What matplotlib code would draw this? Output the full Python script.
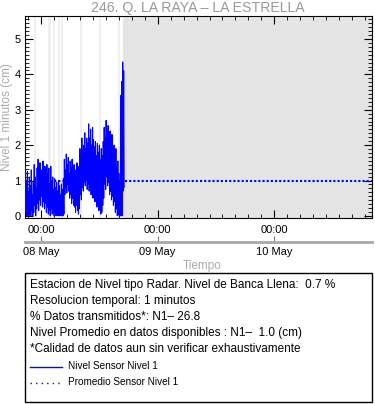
import numpy as np
import matplotlib
matplotlib.use('Agg')
from matplotlib import pyplot as plt
from matplotlib.ticker import MultipleLocator, FixedLocator
from matplotlib.patches import Rectangle

plt.rcParams['font.family'] = ['Liberation Sans', 'DejaVu Sans']

# hours from 08 May 00:00, one sample column every 0.2 h (upper / lower excursion)
hours = np.arange(-3.2, 17.1, 0.2)[:102]
nivel_hi = [1.4, 1.0, 1.25, 0.7, 1.1, 0.85, 1.3, 0.6, 0.95, 1.45,
            1.1, 0.8, 1.35, 1.6, 1.2, 1.5, 1.0, 1.3, 1.55, 1.15,
            1.4, 0.95, 1.45, 1.2, 1.35, 0.9, 1.4, 1.0, 1.1, 0.75,
            1.05, 0.8, 0.95, 0.7, 1.0, 0.85, 0.6, 0.9, 0.75, 1.05,
            1.6, 1.3, 1.75, 1.45, 1.65, 1.2, 1.55, 1.35, 1.6, 1.25,
            1.45, 1.1, 1.3, 1.5, 1.15, 1.4, 1.9, 1.7, 2.2, 1.85,
            2.0, 2.35, 1.9, 2.2, 2.05, 2.6, 2.2, 2.45, 2.0, 2.5,
            2.15, 1.95, 2.1, 1.7, 2.05, 1.8, 2.0, 1.6, 1.9, 1.7,
            2.1, 2.5, 2.2, 2.7, 2.35, 2.55, 2.1, 2.4, 2.0, 2.3,
            1.8, 2.0, 1.6, 1.9, 1.4, 1.55, 1.2, 1.0, 3.4, 3.8,
            4.35, 4.1]
nivel_lo = [0.1, 0.0, 0.2, 0.0, 0.05, 0.0, 0.15, 0.0, 0.1, 0.3,
            0.0, 0.2, 0.35, 0.15, 0.45, 0.3, 0.55, 0.25, 0.4, 0.2,
            0.35, 0.1, 0.25, 0.05, 0.15, 0.0, 0.2, 0.05, 0.1, 0.0,
            0.1, 0.0, 0.15, 0.0, 0.05, 0.0, 0.1, 0.0, 0.0, 0.05,
            0.6, 0.8, 0.65, 0.9, 0.7, 0.5, 0.6, 0.35, 0.5, 0.3,
            0.25, 0.1, 0.3, 0.15, 0.05, 0.2, 0.6, 0.45, 0.8, 0.7,
            0.95, 0.85, 1.0, 0.75, 0.9, 0.7, 0.85, 0.6, 0.75, 0.5,
            0.6, 0.4, 0.45, 0.25, 0.35, 0.15, 0.2, 0.05, 0.1, 0.3,
            0.5, 0.9, 0.75, 1.1, 0.85, 0.95, 0.6, 0.7, 0.45, 0.55,
            0.3, 0.4, 0.1, 0.2, 0.0, 0.05, 0.0, 0.0, 0.0, 0.0,
            0.7, 0.8]
promedio = 1.0

# missing-data stripes (hours) and the no-data region
huecos = [(-1.38, -1.03), (1.50, 2.06), (2.53, 2.88), (3.56, 3.97), (4.11, 4.46),
          (8.02, 8.37), (11.93, 12.28), (15.9, 16.25)]
sin_datos = 16.93

dias = [0, 24, 48]
dias_lbl = ['08 May', '09 May', '10 May']
xmin, xmax = -3.3, 68.1

fig = plt.figure(figsize=(3.75, 4.04), dpi=100)
L, R = 25 / 375, 372 / 375
ax = fig.add_axes([L, 1 - 218 / 404, R - L, 202 / 404])

ax.axvspan(sin_datos, xmax, color='#e4e4e4', lw=0, zorder=0)
for a, b in huecos:
    ax.axvspan(a, b, color='#efefef', lw=0, zorder=0)

tz = np.ravel(np.column_stack([hours, hours + 0.1]))
vz = np.ravel(np.column_stack([nivel_hi, nivel_lo]))
ax.plot(tz, vz, color='#0000ff', lw=0.8, zorder=3)
ax.plot([xmin, xmax], [promedio, promedio], color='#0000ff', lw=1.5,
        linestyle=(0, (1, 1)), zorder=2)

ax.set_xlim(xmin, xmax)
ax.set_ylim(-0.06, 5.65)
ax.xaxis.set_major_locator(FixedLocator(dias))
ax.xaxis.set_minor_locator(MultipleLocator(24 / 9))
ax.set_xticklabels(['00:00'] * 3)
ax.yaxis.set_major_locator(MultipleLocator(1))
ax.yaxis.set_minor_locator(MultipleLocator(1 / 9))
ax.tick_params(which='both', direction='in', top=True, right=True, labelsize=8, pad=3)
ax.tick_params(which='major', length=6, width=0.8)
ax.tick_params(which='minor', length=3, width=0.6)
ax.tick_params(axis='x', pad=5)
for s in ax.spines.values():
    s.set_linewidth(0.8)
ax.set_ylabel('Nivel 1 minutos (cm)', color='#aaaaaa', fontsize=8.5, labelpad=1)
fig.text(0.528, 1 - 8 / 404, '246. Q. LA RAYA \u2013 LA ESTRELLA', ha='center', va='center',
         color='#999999', fontsize=10.2)

# date axis below
ax2 = fig.add_axes([L, 1 - 241.5 / 404, R - L, 0.001])
ax2.set_xlim(xmin, xmax)
ax2.set_ylim(0, 1)
ax2.patch.set_visible(False)
for k in ['top', 'left', 'right']:
    ax2.spines[k].set_visible(False)
ax2.spines['bottom'].set_color('#a8a8a8')
ax2.spines['bottom'].set_linewidth(2)
ax2.set_yticks([])
ax2.set_xticks(dias)
ax2.set_xticklabels(dias_lbl)
ax2.tick_params(axis='x', direction='in', length=4, width=0.8, color='#777777',
                labelsize=8, pad=4)
fig.text(0.538, 1 - 266 / 404, 'Tiempo', ha='center', va='center', color='#aaaaaa', fontsize=8.5)

# info box
fig.patches.append(Rectangle((L, 1 - 402 / 404), R - L, 129 / 404, transform=fig.transFigure,
                             fill=False, ec='black', lw=1))
info = ['Estacion de Nivel tipo Radar. Nivel de Banca Llena:  0.7 %',
        'Resolucion temporal: 1 minutos',
        '% Datos transmitidos*: N1\u2013 26.8',
        'Nivel Promedio en datos disponibles : N1\u2013  1.0 (cm)',
        '*Calidad de datos aun sin verificar exhaustivamente']
for i, t in enumerate(info):
    fig.text(30 / 375, 1 - (285 + 16 * i) / 404, t, ha='left', va='center', fontsize=8.5)
fig.lines.append(plt.Line2D([30 / 375, 62 / 375], [1 - 367 / 404] * 2, transform=fig.transFigure,
                            color='#0000ff', lw=1))
fig.lines.append(plt.Line2D([30 / 375, 62 / 375], [1 - 383 / 404] * 2, transform=fig.transFigure,
                            color='#0000ff', lw=1, linestyle=(0, (1, 3))))
fig.text(68 / 375, 1 - 366 / 404, 'Nivel Sensor Nivel 1', ha='left', va='center', fontsize=7.2)
fig.text(68 / 375, 1 - 382 / 404, 'Promedio Sensor Nivel 1', ha='left', va='center', fontsize=7.2)

fig.savefig('out.png', dpi=100)
